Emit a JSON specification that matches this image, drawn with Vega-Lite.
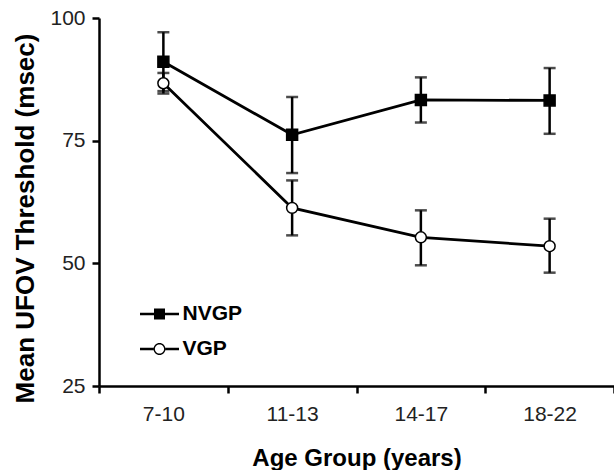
{
  "$schema": "https://vega.github.io/schema/vega-lite/v6.json",
  "autosize": {"type": "none"},
  "padding": {"left": 99, "top": 18, "right": 0, "bottom": 84},
  "width": 515,
  "height": 368,
  "background": "white",
  "config": {
    "view": {"stroke": null},
    "font": "Liberation Sans",
    "axis": {
      "domainColor": "black",
      "domainWidth": 2.5,
      "tickColor": "black",
      "tickWidth": 2.5,
      "tickSize": 7,
      "labelFont": "Liberation Sans",
      "labelFontSize": 21,
      "labelColor": "#222",
      "titleFont": "Liberation Sans",
      "titleFontSize": 24,
      "titleFontWeight": "bold",
      "titleColor": "black",
      "grid": false
    }
  },
  "data": {
    "values": [
      {"age": "7-10", "group": "NVGP", "mean": 91.1, "lo": 85.1, "hi": 97.1},
      {"age": "7-10", "group": "VGP", "mean": 86.7, "lo": 84.6, "hi": 88.8},
      {"age": "11-13", "group": "NVGP", "mean": 76.2, "lo": 68.4, "hi": 83.9},
      {"age": "11-13", "group": "VGP", "mean": 61.3, "lo": 55.7, "hi": 66.9},
      {"age": "14-17", "group": "NVGP", "mean": 83.3, "lo": 78.7, "hi": 87.9},
      {"age": "14-17", "group": "VGP", "mean": 55.3, "lo": 49.6, "hi": 60.8},
      {"age": "18-22", "group": "NVGP", "mean": 83.2, "lo": 76.4, "hi": 89.8},
      {"age": "18-22", "group": "VGP", "mean": 53.5, "lo": 48.1, "hi": 59.1}
    ]
  },
  "encoding": {
    "x": {
      "field": "age",
      "type": "ordinal",
      "sort": ["7-10", "11-13", "14-17", "18-22"],
      "scale": {"type": "band", "paddingInner": 0, "paddingOuter": 0},
      "axis": {
        "title": "Age Group (years)",
        "labelAngle": 0,
        "tickBand": "extent",
        "labelPadding": 10,
        "titlePadding": 22
      }
    }
  },
  "layer": [
    {
      "mark": {"type": "rule", "color": "black", "strokeWidth": 2.5},
      "encoding": {
        "y": {
          "field": "lo",
          "type": "quantitative",
          "scale": {"domain": [25, 100], "nice": false, "zero": false},
          "axis": {
            "title": "Mean UFOV Threshold (msec)",
            "titleFontSize": 26,
            "titleY": 200,
            "values": [25, 50, 75, 100],
            "labelPadding": 7,
            "titlePadding": 11
          }
        },
        "y2": {"field": "hi"}
      }
    },
    {
      "mark": {"type": "tick", "color": "black", "size": 12, "thickness": 2.5, "orient": "horizontal"},
      "encoding": {"y": {"field": "lo", "type": "quantitative"}}
    },
    {
      "mark": {"type": "tick", "color": "black", "size": 12, "thickness": 2.5, "orient": "horizontal"},
      "encoding": {"y": {"field": "hi", "type": "quantitative"}}
    },
    {
      "mark": {"type": "line", "color": "black", "strokeWidth": 2.8},
      "encoding": {
        "y": {"field": "mean", "type": "quantitative"},
        "detail": {"field": "group", "type": "nominal"}
      }
    },
    {
      "transform": [{"filter": "datum.group === 'NVGP'"}],
      "mark": {"type": "point", "shape": "square", "filled": true, "fill": "black", "stroke": "black", "strokeWidth": 1.5, "opacity": 1, "size": 120},
      "encoding": {"y": {"field": "mean", "type": "quantitative"}}
    },
    {
      "transform": [{"filter": "datum.group === 'VGP'"}],
      "mark": {"type": "point", "shape": "circle", "filled": true, "fill": "white", "stroke": "black", "strokeWidth": 1.5, "opacity": 1, "size": 120},
      "encoding": {"y": {"field": "mean", "type": "quantitative"}}
    },
    {
      "transform": [{"filter": "datum.mean < 0"}],
      "mark": {"type": "point", "filled": true, "color": "black", "opacity": 1},
      "encoding": {
        "y": {"field": "mean", "type": "quantitative"},
        "shape": {
          "field": "group",
          "type": "nominal",
          "scale": {
            "domain": ["NVGP", "VGP"],
            "range": [
              "M-1.95,-0.13H1.95V0.13H-1.95Z M-0.55,-0.55H0.55V0.55H-0.55Z",
              "M-1.95,-0.13H-0.6V0.13H-1.95Z M0.6,-0.13H1.95V0.13H0.6Z M0.6,0A0.6,0.6,0,1,1,-0.6,0A0.6,0.6,0,1,1,0.6,0Z M0.46,0A0.46,0.46,0,1,0,-0.46,0A0.46,0.46,0,1,0,0.46,0Z"
            ]
          },
          "legend": {
            "orient": "none",
            "legendX": 49.5,
            "legendY": 285,
            "title": null,
            "padding": 0,
            "symbolSize": 400,
            "labelOffset": 12,
            "rowPadding": 14,
            "labelFont": "Liberation Sans",
            "labelFontSize": 21,
            "labelFontWeight": "bold",
            "labelColor": "black"
          }
        }
      }
    }
  ]
}
